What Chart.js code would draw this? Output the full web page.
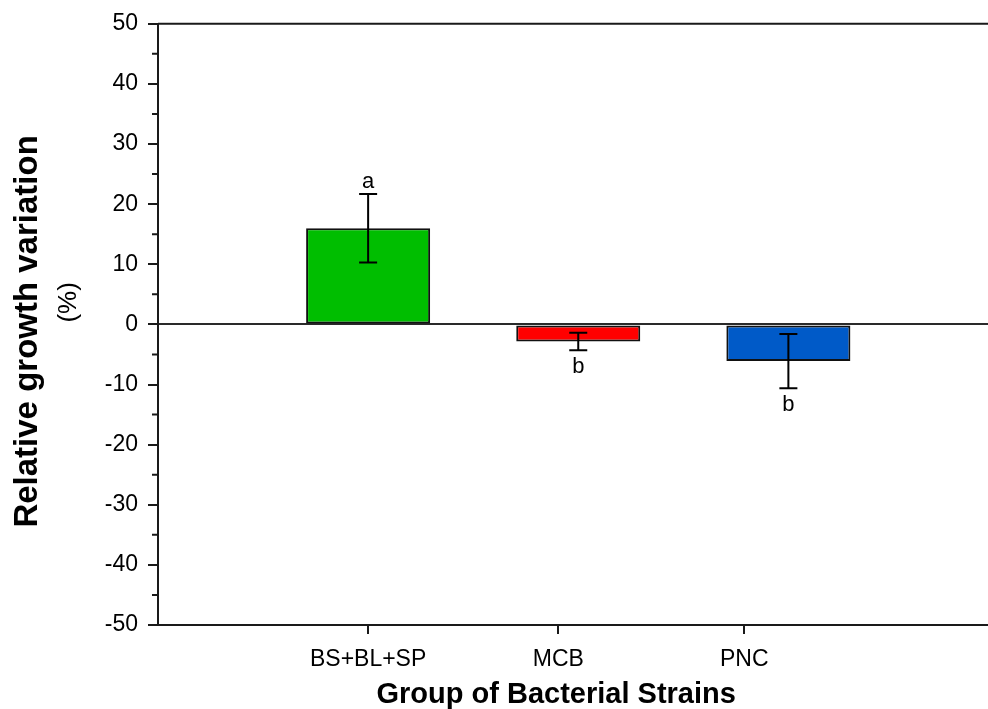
<!DOCTYPE html>
<html>
<head>
<meta charset="utf-8">
<script src="https://cdn.jsdelivr.net/npm/chart.js@4.4.1/dist/chart.umd.min.js"></script>
<style>
  html, body { margin: 0; padding: 0; background: #fff; }
  #wrap { width: 988px; height: 709px; position: relative; }
</style>
</head>
<body>
<div id="wrap"><canvas id="chart"></canvas></div>
<script>
// data
const categories = ['BS+BL+SP', 'MCB', 'PNC'];
const barPositions = [1, 2, 3];
const labelPositions = [1, 1.905, 2.79];
const values = [16.0, -2.85, -6.1];
const errors = [5.7, 1.45, 4.5];
const letters = ['a', 'b', 'b'];
const barColors = ['#00be00', '#ff0000', '#005ac8'];
const minorTicks = [-45, -35, -25, -15, -5, 5, 15, 25, 35, 45];

const FONT = '"Liberation Sans", Arial, sans-serif';
const AXIS_COLOR = '#1a1a1a';

const decorations = {
    id: 'decorations',
    afterDatasetsDraw(chart) {
        const ctx = chart.ctx;
        const xScale = chart.scales.x;
        const yScale = chart.scales.y;

        ctx.save();
        ctx.strokeStyle = '#000';
        ctx.lineWidth = 2;
        ctx.fillStyle = '#000';
        ctx.font = '22px ' + FONT;
        ctx.textAlign = 'center';
        ctx.textBaseline = 'alphabetic';

        values.forEach((v, i) => {
            const px = xScale.getPixelForValue(barPositions[i]);
            const top = yScale.getPixelForValue(v + errors[i]);
            const bottom = yScale.getPixelForValue(v - errors[i]);

            ctx.beginPath();
            ctx.moveTo(px, top);
            ctx.lineTo(px, bottom);
            ctx.moveTo(px - 9, top);
            ctx.lineTo(px + 9, top);
            ctx.moveTo(px - 9, bottom);
            ctx.lineTo(px + 9, bottom);
            ctx.stroke();

            if (v >= 0) {
                ctx.fillText(letters[i], px, top - 6);
            } else {
                ctx.fillText(letters[i], px, bottom + 23);
            }
        });
        ctx.restore();
    },
    afterDraw(chart) {
        const ctx = chart.ctx;
        const area = chart.chartArea;
        const xScale = chart.scales.x;
        const yScale = chart.scales.y;

        ctx.save();
        ctx.strokeStyle = AXIS_COLOR;
        ctx.lineWidth = 2;

        // top frame line
        ctx.beginPath();
        ctx.moveTo(area.left, area.top);
        ctx.lineTo(area.right, area.top);
        ctx.stroke();

        // minor ticks on the y axis
        ctx.beginPath();
        minorTicks.forEach(m => {
            const py = yScale.getPixelForValue(m);
            ctx.moveTo(area.left - 6, py);
            ctx.lineTo(area.left, py);
        });
        ctx.stroke();

        // x tick marks under the category labels
        ctx.beginPath();
        labelPositions.forEach(p => {
            const px = Math.round(xScale.getPixelForValue(p));
            ctx.moveTo(px, area.bottom);
            ctx.lineTo(px, area.bottom + 9);
        });
        ctx.stroke();

        // y axis title, two lines
        const midY = (area.top + area.bottom) / 2;
        ctx.fillStyle = '#000';
        ctx.textAlign = 'center';
        ctx.textBaseline = 'middle';

        ctx.save();
        ctx.translate(28, midY + 7);
        ctx.rotate(-Math.PI / 2);
        ctx.font = 'bold 33px ' + FONT;
        ctx.fillText('Relative growth variation', 0, 0);
        ctx.restore();

        ctx.save();
        ctx.translate(69, midY - 22);
        ctx.rotate(-Math.PI / 2);
        ctx.font = '26px ' + FONT;
        ctx.fillText('(%)', 0, 0);
        ctx.restore();

        // x axis title, centred on the tick labels
        const first = xScale.getPixelForValue(labelPositions[0]);
        const last = xScale.getPixelForValue(labelPositions[labelPositions.length - 1]);
        ctx.font = 'bold 29px ' + FONT;
        ctx.textBaseline = 'alphabetic';
        ctx.fillText('Group of Bacterial Strains', (first + last) / 2, area.bottom + 78);
        ctx.restore();
    }
};

const config = {
    type: 'bar',
    data: {
        datasets: [{
            data: values.map((v, i) => ({x: barPositions[i], y: v})),
            backgroundColor: barColors,
            borderColor: '#111',
            borderWidth: 2,
            borderSkipped: false,
            barPercentage: 0.667,
            categoryPercentage: 1
        }]
    },
    options: {
        responsive: true,
        maintainAspectRatio: false,
        animation: false,
        layout: {padding: {top: 23, right: 0, left: 0, bottom: 0}},
        plugins: {
            legend: {display: false},
            tooltip: {enabled: false}
        },
        scales: {
            x: {
                type: 'linear',
                min: 0,
                max: 3.95,
                bounds: 'data',
                offset: false,
                afterBuildTicks: scale => {
                    scale.ticks = labelPositions.map(v => ({value: v}));
                },
                afterFit: scale => {
                    scale.height = 84;
                },
                ticks: {
                    callback: (value, index) => categories[index],
                    color: '#000',
                    font: {family: FONT, size: 23},
                    padding: 12,
                    maxRotation: 0,
                    autoSkip: false
                },
                grid: {
                    display: false,
                    offset: false,
                    tickLength: 9
                },
                border: {display: true, color: AXIS_COLOR, width: 2}
            },
            y: {
                min: -50,
                max: 50,
                afterFit: scale => {
                    scale.width = 158;
                },
                ticks: {
                    stepSize: 10,
                    color: '#000',
                    font: {family: FONT, size: 23},
                    padding: 10
                },
                grid: {
                    color: ctx => (ctx.tick && ctx.tick.value === 0 ? '#2a2a2a' : 'rgba(0,0,0,0)'),
                    lineWidth: 2,
                    tickLength: 10,
                    tickColor: AXIS_COLOR,
                    tickWidth: 2
                },
                border: {display: true, color: AXIS_COLOR, width: 2}
            }
        }
    },
    plugins: [decorations]
};

new Chart(document.getElementById('chart'), config);
</script>
</body>
</html>
